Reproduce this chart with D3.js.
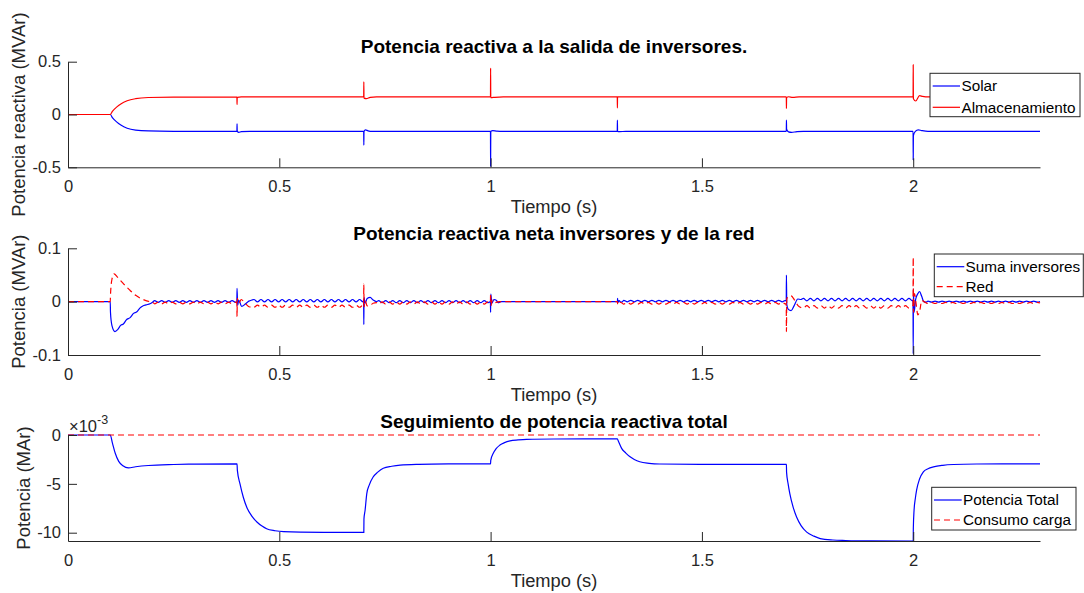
<!DOCTYPE html>
<html>
<head>
<meta charset="utf-8">
<script src="https://cdn.jsdelivr.net/npm/d3@7"></script>
<style>
  html, body { margin: 0; padding: 0; background: #fff; }
  svg { display: block; font-family: "Liberation Sans", Arial, Helvetica, sans-serif; }
</style>
</head>
<body>
<svg id="fig" width="1084" height="593"></svg>
<script>
// ---- Datos ----------------------------------------------------------------
const tiempoTicks = [0, 0.5, 1, 1.5, 2];
const tiempoMax = 2.3;

// Panel 1: potencia reactiva de cada inversor (MVAr), pares [t, Q]
const solar = [
  [0,0],[0.1,0],[0.105,-0.03],[0.115,-0.07],[0.125,-0.1],[0.14,-0.13],[0.16,-0.148],[0.19,-0.156],[0.25,-0.159],
  [0.3997,-0.16],[0.4,-0.088],[0.4004,-0.155],[0.404,-0.17],[0.41,-0.162],[0.43,-0.16],
  [0.6997,-0.16],[0.7,-0.29],[0.7004,-0.16],[0.704,-0.145],[0.71,-0.155],[0.72,-0.16],
  [0.9997,-0.16],[1.0,-0.49],[1.0004,-0.16],[1.005,-0.152],[1.015,-0.158],[1.03,-0.16],
  [1.2997,-0.16],[1.3,-0.054],[1.3004,-0.16],[1.305,-0.162],[1.32,-0.16],
  [1.6997,-0.16],[1.7,-0.054],[1.7004,-0.14],[1.705,-0.165],[1.712,-0.17],[1.725,-0.162],[1.74,-0.16],
  [1.9997,-0.16],[2.0,-0.43],[2.0004,-0.2],[2.005,-0.16],[2.012,-0.145],[2.02,-0.152],[2.035,-0.16],[2.3,-0.16]
];
const almacenamiento = [
  [0,0],[0.1,0],[0.105,0.03],[0.115,0.07],[0.125,0.1],[0.14,0.13],[0.16,0.15],[0.19,0.161],[0.25,0.165],
  [0.3997,0.165],[0.4,0.095],[0.4004,0.163],[0.41,0.166],
  [0.6997,0.166],[0.7,0.31],[0.7004,0.155],[0.706,0.15],[0.715,0.162],[0.73,0.166],
  [0.9997,0.166],[1.0,0.44],[1.0004,0.16],[1.01,0.163],[1.03,0.166],
  [1.2997,0.166],[1.3,0.063],[1.3004,0.166],[1.32,0.166],
  [1.6997,0.166],[1.7,0.057],[1.7004,0.16],[1.705,0.168],[1.715,0.162],[1.73,0.166],
  [1.9997,0.166],[2.0,0.47],[2.0004,0.15],[2.006,0.128],[2.015,0.178],[2.022,0.172],[2.035,0.166],[2.3,0.166]
];

// Panel 2: transitorios en los eventos, pares [t, Q en kVAr (x1e-3 MVAr)]
const sumaTransitorios = [
  [0,0],[0.1,0],[0.1005,-20],[0.104,-45],[0.111,-56],[0.118,-52],[0.125,-44],[0.131,-42],[0.138,-34],
  [0.147,-30],[0.155,-22],[0.163,-19],[0.17,-12],[0.177,-8],[0.185,-6],[0.194,-4],[0.2,-1],
  [0.3995,-0.5],[0.4,25],[0.4015,-7],[0.404,3],[0.411,-9],[0.42,-4],[0.428,1],[0.435,3],
  [0.6995,2],[0.7,-43],[0.7005,8],[0.703,-3],[0.708,6],[0.715,8],[0.722,3],[0.73,0],
  [0.9995,0],[1.0,-20],[1.0005,14],[1.003,-3],[1.008,4],[1.014,2],[1.018,-2],[1.025,0],[1.3,0],
  [1.3005,6],[1.3012,-2],[1.304,2],[1.308,-1],[1.312,0],
  [1.6995,1],[1.7,50],[1.7008,-5],[1.704,-14],[1.711,-17],[1.718,-8],[1.727,5],[1.734,4],
  [1.9995,3],[2.0,-98],[2.0005,24],[2.002,-20],[2.006,5],[2.011,15],[2.015,19],[2.02,10],[2.025,0],[2.03,-1],
  [2.3,0]
];
const redTransitorios = [
  [0,0],[0.1,0],[0.1005,12],[0.104,42],[0.109,52],[0.117,46],[0.125,39],[0.132,33],[0.139,27],
  [0.147,21],[0.155,15],[0.162,11],[0.17,7],[0.178,4],[0.186,1.5],[0.194,0],[0.2,-1],
  [0.3995,-3],[0.4,-28],[0.4006,6],[0.404,-3],[0.41,4],[0.418,-2],[0.43,-10],[0.436,-9],
  [0.6995,-8],[0.7,33],[0.7006,-10],[0.703,2],[0.708,-8],[0.715,-7],[0.722,-3],[0.73,-2],
  [0.9995,-2],[1.0,15],[1.0005,-8],[1.004,3],[1.01,-2],[1.02,0],[1.3,0],
  [1.3005,-4],[1.3012,2],[1.305,-1],[1.31,-2],
  [1.6995,-3],[1.7,-56],[1.7008,5],[1.705,10],[1.711,11],[1.72,2],[1.728,-8],[1.734,-11],
  [1.9995,-7],[2.0,83],[2.0006,-20],[2.003,15],[2.007,-5],[2.011,-25],[2.016,-15],[2.02,2],[2.026,0],[2.03,-2],
  [2.3,-2.5]
];

// Panel 2: ondulación de 60 Hz, extremos sucesivos cada medio ciclo (kVAr)
const medioCiclo = 1 / 120;
const sumaOndulacion = [
  { inicio: 0.205, valores: [2,-1.5,2,-1.5,2,-1.5,2,-1.5,2,-1.5,2,-1.5,2,-1.5,2,-1.5,2,-1.5,2,-1.5,2,-1.5,2,-1.5] },
  { inicio: 0.44,  valores: [4,-0.5,4,-0.5,4,-0.5,4,-0.5,4,-0.5,4,-0.5,4,-0.5,4,-0.5,4,-0.5,4,-0.5,4,-0.5,4,-0.5,4,-0.5,4,-0.5,4,-0.5,4,-0.5] },
  { inicio: 0.735, valores: [2,-2,2,-2,2,-2,2,-2,2,-2,2,-2,2,-2,2,-2,2,-2,2,-2,2,-2,2,-2,2,-2,2,-2,2,-2,2,-2] },
  { inicio: 1.315, valores: [2.5,-0.5,2.5,-0.5,2.5,-0.5,2.5,-0.5,2.5,-0.5,2.5,-0.5,2.5,-0.5,2.5,-0.5,2.5,-0.5,2.5,-0.5,2.5,-0.5,2.5,-0.5,2.5,-0.5,2.5,-0.5,2.5,-0.5,2.5,-0.5,2.5,-0.5,2.5,-0.5,2.5,-0.5,2.5,-0.5,2.5,-0.5,2.5,-0.5,2.5,-0.5,2.5] },
  { inicio: 1.74,  valores: [6,1.5,6,1.5,6,1.5,6,1.5,6,1.5,6,1.5,6,1.5,6,1.5,6,1.5,6,1.5,6,1.5,6,1.5,6,1.5,6,1.5,6,1.5,6,1.5] },
  { inicio: 2.035, valores: [1,-1,1,-1,1,-1,1,-1,1,-1,1,-1,1,-1,1,-1,1,-1,1,-1,1,-1,1,-1,1,-1,1,-1,1,-1,1,-1] }
];
const redOndulacion = [
  { inicio: 0.205, valores: [-4,-1,-4,-1,-4,-1,-4,-1,-4,-1,-4,-1,-4,-1,-4,-1,-4,-1,-4,-1,-4,-1,-4,-1] },
  { inicio: 0.44,  valores: [-10.5,-6.5,-10.5,-6.5,-10.5,-6.5,-10.5,-6.5,-10.5,-6.5,-10.5,-6.5,-10.5,-6.5,-10.5,-6.5,-10.5,-6.5,-10.5,-6.5,-10.5,-6.5,-10.5,-6.5,-10.5,-6.5,-10.5,-6.5,-10.5,-6.5,-10.5,-6.5] },
  { inicio: 0.735, valores: [-4.5,-0.5,-4.5,-0.5,-4.5,-0.5,-4.5,-0.5,-4.5,-0.5,-4.5,-0.5,-4.5,-0.5,-4.5,-0.5,-4.5,-0.5,-4.5,-0.5,-4.5,-0.5,-4.5,-0.5,-4.5,-0.5,-4.5,-0.5,-4.5,-0.5,-4.5,-0.5] },
  { inicio: 1.315, valores: [-4.5,-1.5,-4.5,-1.5,-4.5,-1.5,-4.5,-1.5,-4.5,-1.5,-4.5,-1.5,-4.5,-1.5,-4.5,-1.5,-4.5,-1.5,-4.5,-1.5,-4.5,-1.5,-4.5,-1.5,-4.5,-1.5,-4.5,-1.5,-4.5,-1.5,-4.5,-1.5,-4.5,-1.5,-4.5,-1.5,-4.5,-1.5,-4.5,-1.5,-4.5,-1.5,-4.5,-1.5,-4.5,-1.5,-4.5] },
  { inicio: 1.74,  valores: [-12,-7.5,-12,-7.5,-12,-7.5,-12,-7.5,-12,-7.5,-12,-7.5,-12,-7.5,-12,-7.5,-12,-7.5,-12,-7.5,-12,-7.5,-12,-7.5,-12,-7.5,-12,-7.5,-12,-7.5,-12,-7.5] },
  { inicio: 2.035, valores: [-3.5,-1.5,-3.5,-1.5,-3.5,-1.5,-3.5,-1.5,-3.5,-1.5,-3.5,-1.5,-3.5,-1.5,-3.5,-1.5,-3.5,-1.5,-3.5,-1.5,-3.5,-1.5,-3.5,-1.5,-3.5,-1.5,-3.5,-1.5,-3.5,-1.5,-3.5,-1.5] }
];

// Panel 3: potencia reactiva total (x1e-3 MVAr), pares [t, Q]
const potenciaTotal = [
  [0,0],[0.1,0],[0.105,-0.8],[0.112,-1.9],[0.12,-2.7],[0.13,-3.15],[0.143,-3.36],[0.16,-3.25],[0.19,-3.12],[0.25,-3.02],[0.3,-2.98],[0.4,-2.95],
  [0.4007,-3.6],[0.407,-5.0],[0.415,-6.4],[0.423,-7.4],[0.435,-8.3],[0.447,-8.9],[0.46,-9.35],[0.47,-9.6],[0.49,-9.8],[0.51,-9.9],[0.55,-9.95],[0.7,-9.97],
  [0.7003,-8.6],[0.703,-7.7],[0.707,-6.0],[0.713,-5.1],[0.722,-4.3],[0.733,-3.8],[0.746,-3.4],[0.766,-3.2],[0.786,-3.08],[0.83,-3.0],[0.9,-2.96],[1.0,-2.95],
  [1.0003,-2.6],[1.006,-1.9],[1.013,-1.4],[1.022,-1.03],[1.033,-0.78],[1.046,-0.6],[1.065,-0.5],[1.085,-0.44],[1.15,-0.41],[1.3,-0.4],
  [1.302,-0.6],[1.31,-1.37],[1.32,-1.85],[1.33,-2.23],[1.34,-2.5],[1.353,-2.74],[1.375,-2.9],[1.4,-2.97],[1.5,-3.0],[1.7,-3.0],
  [1.7003,-3.8],[1.704,-5.0],[1.708,-6.0],[1.716,-7.4],[1.724,-8.4],[1.735,-9.3],[1.748,-9.94],[1.765,-10.35],[1.78,-10.6],[1.81,-10.75],[1.84,-10.8],[1.9,-10.84],[2.0,-10.85],
  [2.0003,-9.5],[2.002,-7.7],[2.005,-6.5],[2.008,-5.65],[2.015,-4.5],[2.024,-3.77],[2.035,-3.45],[2.048,-3.26],[2.07,-3.1],[2.095,-3.02],[2.15,-2.97],[2.3,-2.95]
];
const consumoCarga = [[0,0],[2.3,0]];

// ---- Construcción de series ----------------------------------------------
function serieCompleta(transitorios, ondulacion) {
  const pts = transitorios.map(([t, v]) => [t, v * 1e-3]);
  ondulacion.forEach(seg => {
    seg.valores.forEach((v, k) => pts.push([seg.inicio + k * medioCiclo, v * 1e-3]));
  });
  return pts.sort((a, b) => a[0] - b[0]);
}
const sumaInversores = serieCompleta(sumaTransitorios, sumaOndulacion);
const red = serieCompleta(redTransitorios, redOndulacion);

// ---- Dibujo ---------------------------------------------------------------
const svg = d3.select("#fig");
svg.append("rect").attr("width", 1084).attr("height", 593).attr("fill", "#fff");

const AZUL = "#0000ff", ROJO = "#ff0000", EJE = "#262626";
const x = d3.scaleLinear().domain([0, tiempoMax]).range([68, 1040]);
const fmt = d => String(d);

const paneles = [
  {
    top: 61.7, bottom: 167.3, dominio: [-0.5, 0.5], yTicks: [-0.5, 0, 0.5],
    titulo: "Potencia reactiva a la salida de inversores.", tituloY: 52.5,
    ylabel: "Potencia reactiva (MVAr)", ylabelX: 25,
    series: [
      { datos: solar, color: AZUL, dash: null, nombre: "Solar" },
      { datos: almacenamiento, color: ROJO, dash: null, nombre: "Almacenamiento" }
    ],
    leyenda: { x: 930, y: 73.3, w: 150, h: 43.4, filas: [86, 107.3], lx0: 932.7, lx1: 960, tx: 961.5 }
  },
  {
    top: 248.3, bottom: 355, dominio: [-0.1, 0.1], yTicks: [-0.1, 0, 0.1],
    titulo: "Potencia reactiva neta inversores y de la red", tituloY: 240,
    ylabel: "Potencia (MVAr)", ylabelX: 25,
    series: [
      { datos: sumaInversores, color: AZUL, dash: null, nombre: "Suma inversores" },
      { datos: red, color: ROJO, dash: "6,4", nombre: "Red" }
    ],
    leyenda: { x: 934.3, y: 254, w: 149, h: 42.7, filas: [266.7, 286.7], lx0: 936.7, lx1: 964.3, tx: 965.5 }
  },
  {
    top: 435, bottom: 541, dominio: [-10.85, 0], yTicks: [-10, -5, 0],
    titulo: "Seguimiento de potencia reactiva total", tituloY: 428,
    ylabel: "Potencia (MAr)", ylabelX: 30,
    series: [
      { datos: potenciaTotal, color: AZUL, dash: null, nombre: "Potencia Total" },
      { datos: consumoCarga, color: ROJO, dash: "6,4", nombre: "Consumo carga" }
    ],
    leyenda: { x: 931.7, y: 487.3, w: 144.3, h: 42.7, filas: [500, 520], lx0: 934, lx1: 961.7, tx: 963 },
    exponente: true
  }
];

paneles.forEach(p => {
  const y = d3.scaleLinear().domain(p.dominio).range([p.bottom, p.top]);
  const g = svg.append("g");

  // Curvas
  const linea = d3.line().x(d => x(d[0])).y(d => y(d[1])).curve(d3.curveMonotoneX);
  p.series.forEach(s => {
    g.append("path")
      .datum(s.datos)
      .attr("d", linea)
      .attr("fill", "none")
      .attr("stroke", s.color)
      .attr("stroke-width", 1.2)
      .attr("stroke-dasharray", s.dash);
  });

  // Eje X
  const ax = g.append("g").attr("transform", `translate(0,${p.bottom})`)
    .call(d3.axisBottom(x).tickValues(tiempoTicks).tickFormat(fmt).tickSize(-9).tickSizeOuter(0).tickPadding(13));
  // Eje Y
  const ay = g.append("g").attr("transform", `translate(68,0)`)
    .call(d3.axisLeft(y).tickValues(p.yTicks).tickFormat(fmt).tickSize(-9).tickSizeOuter(0).tickPadding(7));
  [ax, ay].forEach(a => {
    a.select(".domain").attr("stroke", EJE).attr("stroke-width", 1);
    a.selectAll(".tick line").attr("stroke", EJE).attr("stroke-width", 1);
    a.selectAll(".tick text").attr("fill", EJE).attr("font-size", "16.5px")
      .attr("font-family", "Liberation Sans, Arial, sans-serif");
  });

  // Título
  svg.append("text").attr("x", 554).attr("y", p.tituloY)
    .attr("text-anchor", "middle").attr("font-size", "19px").attr("font-weight", "bold")
    .attr("fill", "#000").text(p.titulo);

  // Etiqueta X
  svg.append("text").attr("x", 554).attr("y", p.bottom + 45.7)
    .attr("text-anchor", "middle").attr("font-size", "18.3px").attr("fill", EJE)
    .text("Tiempo (s)");

  // Etiqueta Y
  const yc = (p.top + p.bottom) / 2;
  svg.append("text")
    .attr("transform", `translate(${p.ylabelX},${yc}) rotate(-90)`)
    .attr("text-anchor", "middle").attr("font-size", "18.5px").attr("fill", EJE)
    .text(p.ylabel);

  // Multiplicador del eje
  if (p.exponente) {
    const t = svg.append("text").attr("x", 69).attr("y", 432).attr("fill", EJE).attr("font-size", "16.5px");
    t.append("tspan").text("×10");
    t.append("tspan").attr("dy", -8).attr("font-size", "12.5px").text("-3");
  }

  // Leyenda
  const L = p.leyenda;
  const lg = svg.append("g");
  lg.append("rect").attr("x", L.x).attr("y", L.y).attr("width", L.w).attr("height", L.h)
    .attr("fill", "#fff").attr("stroke", EJE).attr("stroke-width", 1);
  p.series.forEach((s, i) => {
    lg.append("line").attr("x1", L.lx0).attr("x2", L.lx1).attr("y1", L.filas[i]).attr("y2", L.filas[i])
      .attr("stroke", s.color).attr("stroke-width", 1.2).attr("stroke-dasharray", s.dash);
    lg.append("text").attr("x", L.tx).attr("y", L.filas[i]).attr("dy", "0.35em")
      .attr("font-size", "15.3px").attr("fill", "#000").text(s.nombre);
  });
});
</script>
</body>
</html>
